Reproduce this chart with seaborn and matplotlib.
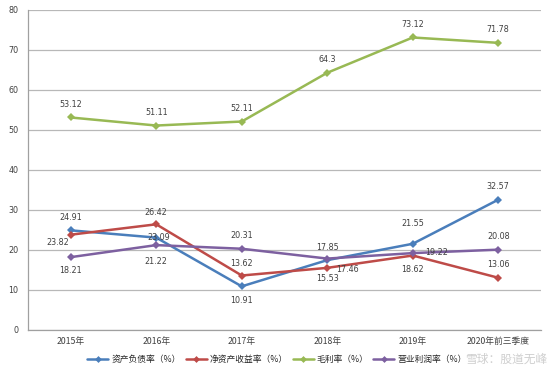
import matplotlib
matplotlib.use("Agg")
import matplotlib.pyplot as plt
import pandas as pd
import seaborn as sns

# ================================
# DATA
# ================================
years = ["2015年", "2016年", "2017年", "2018年", "2019年", "2020年前三季度"]
debt_ratio = [24.91, 23.09, 10.91, 17.46, 21.55, 32.57]
roe = [23.82, 26.42, 13.62, 15.53, 18.62, 13.06]
gross_margin = [53.12, 51.11, 52.11, 64.3, 73.12, 71.78]
op_margin = [18.21, 21.22, 20.31, 17.85, 19.22, 20.08]
series_names = ["资产负债率（%）", "净资产收益率（%）", "毛利率（%）", "营业利润率（%）"]
y_ticks = [0, 10, 20, 30, 40, 50, 60, 70, 80]

# label offsets in pixels (dx, dy) for each point
label_offsets = {
    series_names[0]: [(0, 13), (3, 0), (0, -14), (20, -9), (0, 20), (0, 13)],
    series_names[1]: [(-13, -8), (0, 12), (0, 12), (0, -11), (0, -14), (0, 13)],
    series_names[2]: [(0, 13)] * 6,
    series_names[3]: [(0, -13), (0, -16), (0, 13), (0, 11), (24, 1), (0, 13)],
}
colors = ["#4a7ebb", "#be4b48", "#98b954", "#7d60a0"]

rows = []
for name, vals in zip(series_names, [debt_ratio, roe, gross_margin, op_margin]):
    for i, v in enumerate(vals):
        rows.append({"idx": i, "value": v, "series": name})
df = pd.DataFrame(rows)

# ================================
# PLOT
# ================================
sns.set_style("white")
plt.rcParams["font.family"] = ["DejaVu Sans", "Noto Sans CJK SC"]
cjk = ["Noto Sans CJK SC", "DejaVu Sans"]

fig = plt.figure(figsize=(5.54, 3.73), dpi=100)
ax = fig.add_axes([0.0505, 0.1153, 0.926, 0.858])

sns.lineplot(data=df, x="idx", y="value", hue="series", style="series",
             markers=["D"] * 4, dashes=False, palette=colors, linewidth=1.8,
             markersize=4, markeredgewidth=0, ax=ax, legend=False)

for name in series_names:
    sub = df[df["series"] == name]
    for (i, v), off in zip(zip(sub["idx"], sub["value"]), label_offsets[name]):
        ax.annotate(f"{v:g}", (i, v), xytext=off, textcoords="offset pixels",
                    ha="center", va="center", fontsize=5.8, color="#404040")

ax.set_xlim(-0.5, 5.5)
ax.set_ylim(0, 80)
ax.set_yticks(y_ticks)
ax.set_xticks(range(len(years)))
ax.set_xticklabels(years, family=cjk)
ax.set_xticks([i - 0.5 for i in range(len(years) + 1)], minor=True)
ax.tick_params(axis="x", which="major", length=0, labelsize=6.3, colors="#404040", pad=5)
ax.tick_params(axis="x", which="minor", length=4, color="#a0a0a0", width=0.8, direction="out")
ax.tick_params(axis="y", length=4, width=0.8, labelsize=5.8,
               colors="#404040", pad=3, direction="out")
ax.tick_params(axis="y", color="#a0a0a0")
ax.grid(axis="y", color="#b8b8b8", linewidth=0.9)
ax.set_axisbelow(True)
for side in ["top", "right"]:
    ax.spines[side].set_visible(False)
for side in ["left", "bottom"]:
    ax.spines[side].set_color("#a0a0a0")
    ax.spines[side].set_linewidth(0.9)
ax.set_xlabel("")
ax.set_ylabel("")

handles = [plt.Line2D([], [], color=c, marker="D", markersize=3.5, markeredgewidth=0,
                      linewidth=1.8) for c in colors]
fig.legend(handles, series_names, loc="center left", bbox_to_anchor=(0.15, 0.036), ncol=4,
           frameon=False, prop={"family": cjk, "size": 6.3},
           handlelength=2.4, columnspacing=0.6, handletextpad=0.3, borderpad=0)

# watermark
fig.text(0.988, 0.038, "雪球：股道无峰", ha="right", va="center", fontsize=8.5,
         color="#cfcfcf", family=cjk)

fig.savefig("out.png", dpi=100)
plt.close(fig)
